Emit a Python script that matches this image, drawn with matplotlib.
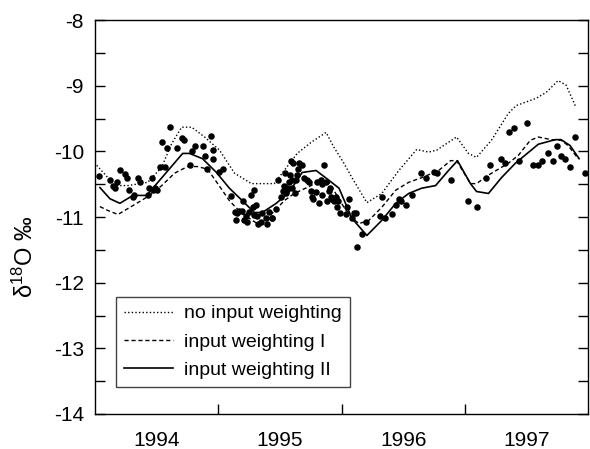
import matplotlib
matplotlib.use("Agg")
import matplotlib.pyplot as plt
from matplotlib.ticker import FixedLocator, NullFormatter, FixedFormatter

plt.rcParams['font.family'] = ['Liberation Sans', 'DejaVu Sans']
plt.rcParams['mathtext.fontset'] = 'custom'
plt.rcParams['mathtext.rm'] = 'Liberation Sans'
plt.rcParams['mathtext.it'] = 'Liberation Sans:italic'

# ---- data (decimal years, delta 18O permil) ----
no_w_x = [1994.014, 1994.162, 1994.267, 1994.428, 1994.541, 1994.622, 1994.703, 1994.784,
          1994.889, 1995.010, 1995.131, 1995.268, 1995.454, 1995.535, 1995.640, 1995.753,
          1995.874, 1995.939, 1996.019, 1996.084, 1996.205, 1996.326, 1996.464, 1996.609,
          1996.706, 1996.771, 1996.851, 1996.932, 1997.029, 1997.094, 1997.215, 1997.352,
          1997.417, 1997.578, 1997.659, 1997.756, 1997.821, 1997.901]
no_w_y = [-10.21, -10.52, -10.52, -10.47, -10.24, -9.88, -9.63, -9.63,
          -9.78, -9.98, -10.33, -10.49, -10.49, -10.29, -10.03, -9.86,
          -9.71, -9.94, -10.18, -10.40, -10.78, -10.64, -10.29, -9.97,
          -10.01, -9.98, -9.88, -9.78, -10.03, -10.09, -9.83, -9.42,
          -9.30, -9.19, -9.10, -8.92, -8.99, -9.33]

w1_x = [1994.040, 1994.105, 1994.186, 1994.267, 1994.347, 1994.444, 1994.541, 1994.646,
        1994.751, 1994.832, 1994.913, 1995.010, 1995.090, 1995.187, 1995.317, 1995.438,
        1995.535, 1995.616, 1995.753, 1995.834, 1995.898, 1996.019, 1996.084, 1996.140,
        1996.221, 1996.326, 1996.439, 1996.544, 1996.649, 1996.787, 1996.884, 1996.932,
        1997.045, 1997.094, 1997.191, 1997.352, 1997.433, 1997.530, 1997.595, 1997.700,
        1997.780, 1997.837, 1997.918]
w1_y = [-10.84, -10.90, -10.96, -10.87, -10.78, -10.67, -10.52, -10.33,
        -10.23, -10.23, -10.27, -10.53, -10.75, -10.94, -11.10, -10.94,
        -10.75, -10.64, -10.52, -10.41, -10.47, -10.85, -11.01, -11.10,
        -11.05, -10.85, -10.59, -10.47, -10.40, -10.29, -10.14, -10.14,
        -10.49, -10.49, -10.36, -10.18, -10.06, -9.83, -9.78, -9.82,
        -9.83, -9.91, -10.11]

w2_x = [1994.040, 1994.121, 1994.202, 1994.307, 1994.420, 1994.501, 1994.606, 1994.711,
        1994.767, 1994.872, 1994.985, 1995.090, 1995.195, 1995.292, 1995.357, 1995.470,
        1995.575, 1995.680, 1995.793, 1995.898, 1995.979, 1996.084, 1996.205, 1996.326,
        1996.439, 1996.544, 1996.649, 1996.762, 1996.867, 1996.940, 1997.045, 1997.094,
        1997.191, 1997.296, 1997.409, 1997.595, 1997.732, 1997.780, 1997.853, 1997.926]
w2_y = [-10.55, -10.72, -10.79, -10.67, -10.67, -10.49, -10.26, -10.03,
        -10.03, -10.11, -10.32, -10.56, -10.75, -10.93, -10.93, -10.79,
        -10.62, -10.32, -10.29, -10.44, -10.56, -11.02, -11.28, -11.05,
        -10.79, -10.64, -10.56, -10.52, -10.29, -10.14, -10.49, -10.61,
        -10.64, -10.40, -10.18, -9.89, -9.82, -9.82, -9.91, -10.11]

obs_x = [1994.032, 1994.121, 1994.145, 1994.178, 1994.162, 1994.202, 1994.242, 1994.258,
         1994.275, 1994.307, 1994.315, 1994.347, 1994.363, 1994.428, 1994.436, 1994.460,
         1994.468, 1994.485, 1994.501, 1994.525, 1994.541, 1994.565, 1994.582, 1994.606,
         1994.662, 1994.703, 1994.719, 1994.767, 1994.784, 1994.808, 1994.872, 1994.889,
         1994.905, 1994.937, 1994.953, 1994.961, 1995.002,
         1995.042, 1995.139, 1995.155, 1995.147, 1995.195, 1995.204, 1995.228, 1995.236,
         1995.268, 1995.284, 1995.292, 1995.309, 1995.317, 1995.349, 1995.357, 1995.389,
         1995.397, 1995.414, 1995.438, 1995.470, 1995.486, 1995.511, 1995.527, 1995.535,
         1995.543, 1995.551, 1995.559, 1995.575, 1995.583, 1995.591, 1995.607, 1995.632,
         1995.648, 1995.656, 1995.680, 1995.696, 1995.721, 1995.737, 1995.753, 1995.761,
         1995.769, 1995.793, 1995.801, 1995.817, 1995.834, 1995.842, 1995.858, 1995.874,
         1995.898, 1995.914, 1995.922, 1995.939, 1995.963, 1995.987,
         1995.099, 1995.171, 1995.212, 1995.252, 1995.292, 1995.325, 1995.438, 1995.599,
         1995.599, 1995.624, 1995.640, 1995.842, 1995.882, 1995.906, 1995.955, 1995.971,
         1996.036, 1996.060, 1996.044, 1996.084, 1996.100, 1996.116, 1996.165, 1996.124,
         1996.197, 1996.310, 1996.326, 1996.351, 1996.407, 1996.439, 1996.464, 1996.480,
         1996.520, 1996.569, 1996.641, 1996.682, 1996.746, 1996.771, 1996.884, 1997.021,
         1997.102, 1997.174, 1997.207, 1997.296, 1997.328, 1997.360, 1997.401, 1997.441,
         1997.506, 1997.554, 1997.595, 1997.627, 1997.675, 1997.716, 1997.748, 1997.780,
         1997.813, 1997.853, 1997.893, 1997.974]
obs_y = [-10.38, -10.44, -10.52, -10.47, -10.55, -10.29, -10.35, -10.40,
         -10.58, -10.70, -10.67, -10.41, -10.46, -10.67, -10.55, -10.40,
         -10.59, -10.55, -10.59, -10.23, -9.85, -10.23, -9.95, -9.63,
         -9.95, -9.80, -9.83, -10.21, -10.00, -9.92, -9.92, -10.07,
         -10.26, -9.77, -9.98, -10.12, -10.32,
         -10.27, -10.93, -10.94, -11.05, -10.90, -10.75, -10.99, -11.08,
         -10.67, -10.85, -10.58, -10.82, -10.99, -11.08, -10.94, -11.01,
         -11.10, -10.93, -11.01, -10.87, -10.44, -10.70, -10.61, -10.53,
         -10.33, -10.64, -10.55, -10.47, -10.36, -10.14, -10.18, -10.44,
         -10.26, -10.17, -10.20, -10.41, -10.44, -10.47, -10.61, -10.69,
         -10.73, -10.62, -10.46, -10.79, -10.44, -10.67, -10.21, -10.46,
         -10.61, -10.70, -10.73, -10.75, -10.85, -10.94,
         -10.68, -10.90, -11.05, -10.93, -10.97, -11.10, -11.02, -10.43,
         -10.55, -10.64, -10.36, -10.49, -10.75, -10.56, -10.70, -10.75,
         -10.96, -10.73, -10.85, -11.02, -10.94, -10.94, -11.26, -11.45,
         -11.08, -10.99, -10.69, -11.02, -10.96, -10.81, -10.72, -10.76,
         -10.82, -10.67, -10.33, -10.41, -10.32, -10.33, -10.43, -10.76,
         -10.84, -10.41, -10.21, -10.12, -10.17, -9.71, -9.65, -10.15,
         -9.57, -10.20, -10.21, -10.15, -10.03, -10.15, -9.91, -10.07,
         -10.11, -10.24, -9.78, -10.33]

year_labels = ['1994', '1995', '1996', '1997']
year_label_pos = [1994.5, 1995.5, 1996.5, 1997.5]
year_ticks = [1995, 1996, 1997]
y_ticks = [-14, -13, -12, -11, -10, -9, -8]
legend_labels = ['no input weighting', 'input weighting I', 'input weighting II']

fig = plt.figure(figsize=(5.90, 4.49), dpi=100)
ax = fig.add_axes([0.161, 0.078, 0.836, 0.877])

l1, = ax.plot(no_w_x, no_w_y, color='black', lw=1.0, linestyle=(0, (1, 1.6)))
l2, = ax.plot(w1_x, w1_y, color='black', lw=1.0, linestyle=(0, (3, 2)))
l3, = ax.plot(w2_x, w2_y, color='black', lw=1.2, linestyle='-')
ax.scatter(obs_x, obs_y, s=22, color='black', zorder=3, linewidths=0)

ax.set_xlim(1994.0, 1998.0)
ax.set_ylim(-14, -8)

ax.xaxis.set_major_locator(FixedLocator(year_ticks))
ax.xaxis.set_major_formatter(NullFormatter())
ax.xaxis.set_minor_locator(FixedLocator(year_label_pos))
ax.xaxis.set_minor_formatter(FixedFormatter(year_labels))
ax.tick_params(axis='x', which='major', direction='in', length=7, width=1, top=False)
ax.tick_params(axis='x', which='minor', length=0, pad=12, labelsize=15)

ax.set_yticks(y_ticks)
ax.set_yticklabels([str(v) for v in y_ticks])
ax.yaxis.set_minor_locator(FixedLocator([-13.5, -12.5, -11.5, -10.5, -9.5, -8.5]))
ax.tick_params(axis='y', which='both', direction='in', length=7, width=1,
               left=True, right=True, labelsize=15, pad=8)

for s in ax.spines.values():
    s.set_linewidth(1.0)

ax.set_ylabel('δ$^{18}$O ‰', fontsize=17)
ax.yaxis.set_label_coords(-0.116, 0.40)

leg = ax.legend([l1, l2, l3], legend_labels, loc='lower left',
                bbox_to_anchor=(0.043, 0.069), borderaxespad=0, fontsize=14,
                handlelength=2.5, handletextpad=0.6, labelspacing=0.55,
                borderpad=0.4, fancybox=False, framealpha=1)
leg.get_frame().set_edgecolor('#444444')
leg.get_frame().set_linewidth(1.0)

fig.savefig('out.png', dpi=100)
